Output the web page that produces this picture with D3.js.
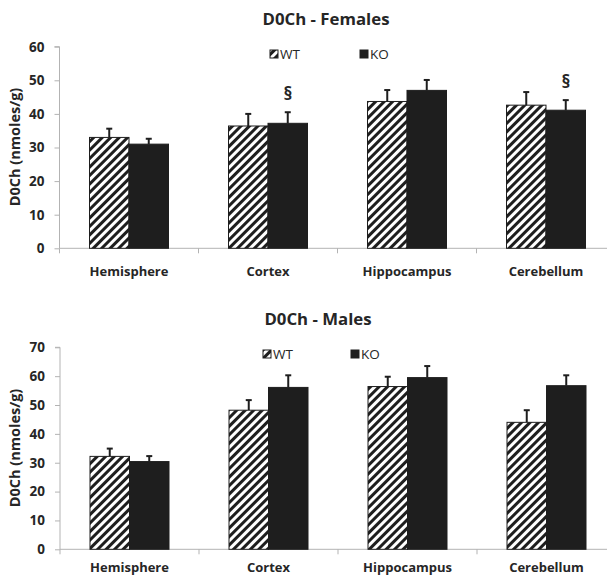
<!DOCTYPE html>
<html><head><meta charset="utf-8">
<script src="https://cdn.jsdelivr.net/npm/d3@7"></script>
<style>
html,body{margin:0;padding:0;background:#fff;}
svg{display:block;font-family:"Open Sans",sans-serif;}
</style></head>
<body>
<svg id="chart" width="607" height="576"></svg>
<script>
const categories = ["Hemisphere", "Cortex", "Hippocampus", "Cerebellum"];
const seriesNames = ["WT", "KO"];

const femalesWT = [33.0, 36.4, 43.7, 42.6];
const femalesWTerr = [2.6, 3.6, 3.4, 3.9];
const femalesKO = [31.0, 37.2, 47.0, 41.1];
const femalesKOerr = [1.6, 3.3, 3.1, 3.0];
const femalesTicks = [0, 10, 20, 30, 40, 50, 60];
const femalesMarks = [{cat: "Cortex", series: "KO", label: "§"}, {cat: "Cerebellum", series: "KO", label: "§"}];

const malesWT = [32.2, 48.2, 56.4, 44.0];
const malesWTerr = [2.7, 3.5, 3.4, 4.2];
const malesKO = [30.4, 56.1, 59.5, 56.7];
const malesKOerr = [1.9, 4.2, 4.0, 3.6];
const malesTicks = [0, 10, 20, 30, 40, 50, 60, 70];
const malesMarks = [];

const yLabel = "D0Ch (nmoles/g)";

const svg = d3.select("#chart");
const defs = svg.append("defs");
const pat = defs.append("pattern").attr("id", "hatch")
  .attr("patternUnits", "userSpaceOnUse").attr("width", 6).attr("height", 6)
  .attr("patternTransform", "rotate(45)");
pat.append("rect").attr("width", 6).attr("height", 6).attr("fill", "#fff");
pat.append("rect").attr("width", 3).attr("height", 6).attr("fill", "#1e1e1e");

const DARK = "#1e1e1e";
const AXIS = "#b3b3b3";

function drawPanel(cfg) {
  const g = svg.append("g");
  const x0 = d3.scaleBand().domain(categories).range([cfg.left, cfg.left + 556]).paddingInner(0).paddingOuter(0);
  const bw = 39.5;
  const x1 = d3.scaleBand().domain(seriesNames).range([0, bw * 2]);
  const y = d3.scaleLinear().domain([0, d3.max(cfg.ticks)]).range([cfg.bottom, cfg.top]);

  // title
  g.append("text").attr("x", cfg.titleX).attr("y", cfg.titleY).attr("text-anchor", "middle")
    .attr("font-size", 16.8).attr("font-weight", 700).attr("fill", "#262626").text(cfg.title);

  // y axis
  const ya = g.append("g").attr("transform", `translate(${cfg.left},0)`)
    .call(d3.axisLeft(y).tickValues(cfg.ticks).tickSize(5).tickPadding(10).tickFormat(d3.format("d")));
  ya.select(".domain").attr("stroke", AXIS).attr("d", `M-5,${cfg.top}H0V${cfg.bottom}`);
  ya.selectAll(".tick line").attr("stroke", AXIS);
  ya.selectAll(".tick text").attr("font-size", 13.5).attr("font-weight", 700).attr("fill", "#262626")
    .attr("font-family", "Open Sans");

  // x axis
  const xa = g.append("g").attr("transform", `translate(0,${cfg.bottom})`)
    .call(d3.axisBottom(x0).tickSize(0).tickPadding(cfg.xPad));
  xa.select(".domain").attr("stroke", AXIS).attr("d", `M${cfg.left},0H607`);
  xa.selectAll(".tick text").attr("font-size", 13).attr("font-weight", 700).attr("fill", "#262626")
    .attr("font-family", "Open Sans");
  xa.selectAll(".sep").data(categories).enter().append("line").attr("class", "sep")
    .attr("x1", d => x0(d)).attr("x2", d => x0(d)).attr("y1", 0).attr("y2", 5).attr("stroke", AXIS);

  // y label
  g.append("text").attr("transform", `translate(${cfg.ylabX},${cfg.ylabY}) rotate(-90)`)
    .attr("text-anchor", "middle").attr("font-size", 14.5).attr("font-weight", 700).attr("fill", "#262626")
    .text(yLabel);

  const offset = (x0.bandwidth() - bw * 2) / 2;
  const data = [];
  categories.forEach((c, i) => {
    data.push({cat: c, s: "WT", v: cfg.wt[i], e: cfg.wtErr[i]});
    data.push({cat: c, s: "KO", v: cfg.ko[i], e: cfg.koErr[i]});
  });
  const bx = d => x0(d.cat) + offset + x1(d.s);

  // error bars
  const eb = g.append("g");
  eb.selectAll("line.v").data(data).enter().append("line")
    .attr("x1", d => bx(d) + bw / 2).attr("x2", d => bx(d) + bw / 2)
    .attr("y1", d => y(d.v)).attr("y2", d => y(d.v + d.e))
    .attr("stroke", DARK).attr("stroke-width", 2);
  eb.selectAll("line.c").data(data).enter().append("line")
    .attr("x1", d => bx(d) + bw / 2 - 3).attr("x2", d => bx(d) + bw / 2 + 3)
    .attr("y1", d => y(d.v + d.e)).attr("y2", d => y(d.v + d.e))
    .attr("stroke", DARK).attr("stroke-width", 2);

  g.selectAll("rect.bar").data(data).enter().append("rect")
    .attr("x", d => bx(d)).attr("width", bw)
    .attr("y", d => y(d.v)).attr("height", d => y(0) - y(d.v))
    .attr("fill", d => d.s === "WT" ? "url(#hatch)" : DARK)
    .attr("stroke", DARK).attr("stroke-width", 1);

  // significance marks
  g.selectAll("text.mark").data(cfg.marks).enter().append("text")
    .attr("x", d => { const dd = data.find(q => q.cat === d.cat && q.s === d.series); return bx(dd) + bw / 2; })
    .attr("y", d => { const dd = data.find(q => q.cat === d.cat && q.s === d.series); return y(dd.v + dd.e) - 12; })
    .attr("text-anchor", "middle").attr("font-size", 18).attr("font-weight", 700).attr("fill", "#262626")
    .text(d => d.label);

  // legend
  cfg.legend.forEach((L, i) => {
    const s = seriesNames[i];
    g.append("rect").attr("x", L.x).attr("y", cfg.legendY - 4).attr("width", 8).attr("height", 8)
      .attr("fill", s === "WT" ? "url(#hatch)" : DARK).attr("stroke", DARK).attr("stroke-width", 1);
    g.append("text").attr("x", L.x + 10).attr("y", cfg.legendY + 5).attr("font-size", 13.5)
      .attr("fill", "#262626").text(s);
  });
}

drawPanel({title: "D0Ch - Females", titleX: 326, titleY: 25, top: 46.7, bottom: 248.3, left: 59.5, xPad: 18,
  ticks: femalesTicks, wt: femalesWT, wtErr: femalesWTerr, ko: femalesKO, koErr: femalesKOerr,
  marks: femalesMarks, ylabX: 20, ylabY: 147, legendY: 54, legend: [{x: 270}, {x: 360}]});
drawPanel({title: "D0Ch - Males", titleX: 318, titleY: 325, top: 347.3, bottom: 549.3, left: 60, xPad: 13,
  ticks: malesTicks, wt: malesWT, wtErr: malesWTerr, ko: malesKO, koErr: malesKOerr,
  marks: malesMarks, ylabX: 20, ylabY: 448, legendY: 354, legend: [{x: 263}, {x: 351}]});
</script>
</body></html>
